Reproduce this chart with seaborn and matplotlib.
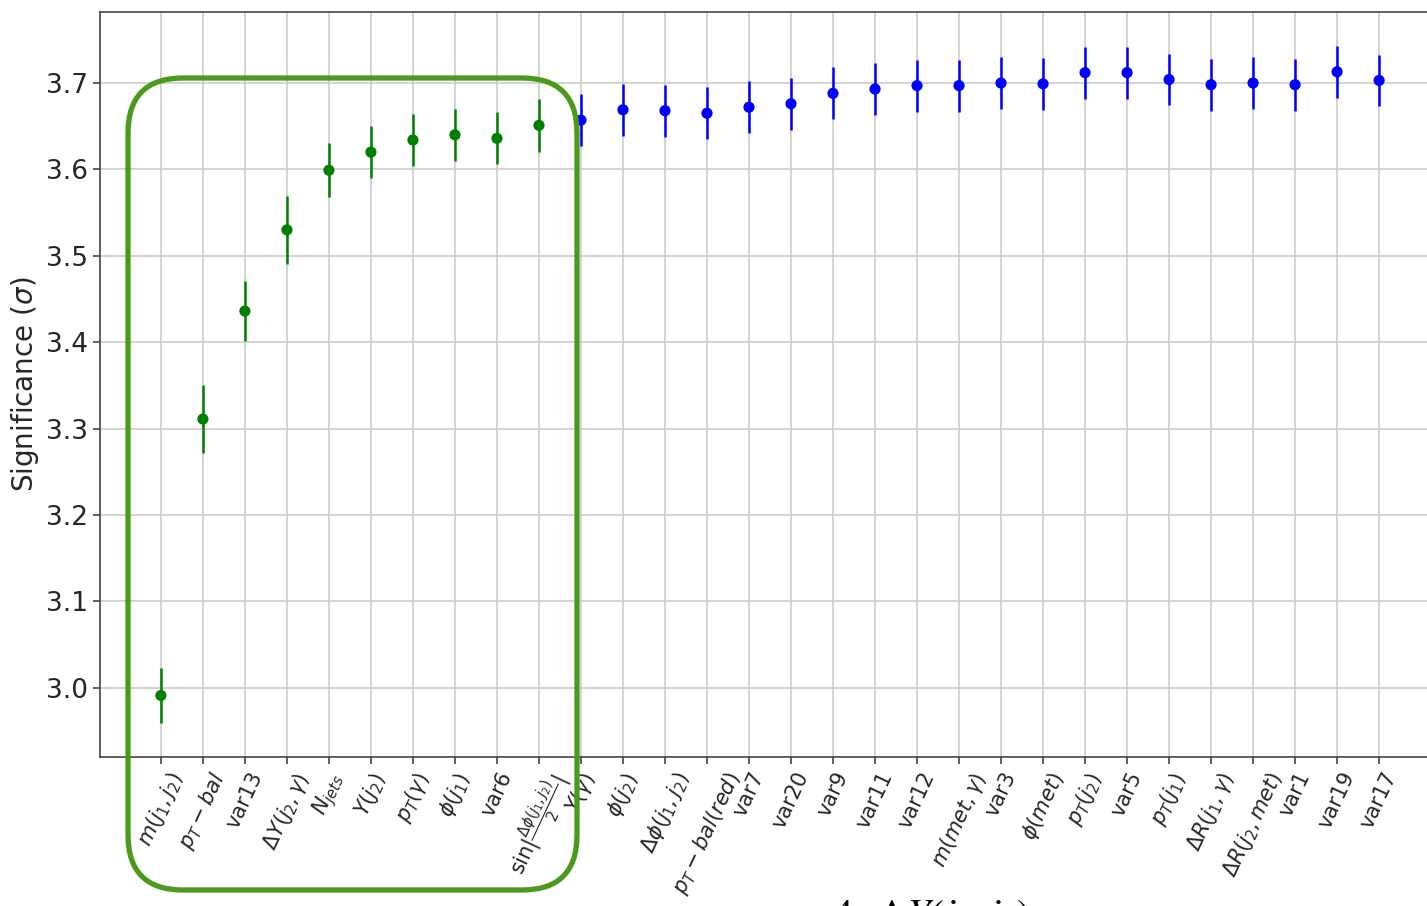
import numpy as np
import pandas as pd
import matplotlib
matplotlib.use("Agg")
import matplotlib.pyplot as plt
import seaborn as sns
from matplotlib.patches import FancyBboxPatch
from matplotlib.transforms import IdentityTransform

# variables in the order they were added, with the significance reached
labels = [r"$m(j_1,j_2)$", r"$p_T-bal$", "var13", r"$\Delta Y(j_2,\gamma)$", r"$N_{jets}$",
          r"$Y(j_2)$", r"$p_T(\gamma)$", r"$\phi(j_1)$", "var6",
          r"$\mathrm{sin}|\frac{\Delta\phi(j_1,j_2)}{2}|$",
          r"$Y(\gamma)$", r"$\phi(j_2)$", r"$\Delta\phi(j_1,j_2)$", r"$p_T-bal(red)$", "var7",
          "var20", "var9", "var11", "var12", r"$m(met,\gamma)$", "var3", r"$\phi(met)$",
          r"$p_T(j_2)$", "var5", r"$p_T(j_1)$", r"$\Delta R(j_1,\gamma)$", r"$\Delta R(j_2,met)$",
          "var1", "var19", "var17"]
significance = [2.991, 3.311, 3.436, 3.530, 3.599, 3.620, 3.634, 3.640, 3.636, 3.651,
                3.657, 3.669, 3.668, 3.665, 3.672, 3.676, 3.688, 3.693, 3.697, 3.697,
                3.700, 3.699, 3.712, 3.712, 3.704, 3.698, 3.700, 3.698, 3.713, 3.703]
errors = [0.032, 0.039, 0.035, 0.039, 0.031, 0.030, 0.030, 0.030, 0.030, 0.031,
          0.030, 0.030, 0.030, 0.030, 0.030, 0.030, 0.030, 0.030, 0.030, 0.030,
          0.030, 0.030, 0.030, 0.030, 0.030, 0.030, 0.030, 0.030, 0.030, 0.030]
n_selected = 10  # first ten variables are the chosen set (green)

df = pd.DataFrame({"pos": np.arange(len(labels)), "label": labels,
                   "sig": significance, "err": errors})
df["group"] = np.where(df["pos"] < n_selected, "selected", "rest")
palette = {"selected": "green", "rest": "blue"}

sns.set_style("ticks")
plt.rcParams["axes.edgecolor"] = "#444444"
plt.rcParams["axes.linewidth"] = 1.2

fig = plt.figure(figsize=(14.27, 9.06), dpi=100)
ax = fig.add_axes([100 / 1427, 1 - 757 / 906, 1340 / 1427, 745 / 906])

for g, sub in df.groupby("group"):
    ax.errorbar(sub["pos"], sub["sig"], yerr=sub["err"], fmt="none",
                ecolor=palette[g], elinewidth=1.8, zorder=2)
sns.scatterplot(data=df, x="pos", y="sig", hue="group", palette=palette,
                s=65, linewidth=0, legend=False, zorder=3, ax=ax)

ax.margins(x=0.05, y=0.05)
ax.grid(True, color="#cccccc", linewidth=1.2)
ax.set_axisbelow(True)
ax.set_xticks(df["pos"])
ax.set_xticklabels(df["label"], rotation=65, fontsize=15)
ax.set_yticks(np.arange(3.0, 3.71, 0.1))
ax.set_yticklabels([f"{v:.1f}" for v in np.arange(3.0, 3.71, 0.1)], fontsize=19)
ax.tick_params(length=5, width=1.2, color="#444444")
ax.set_xlabel("")
ax.set_ylabel(r"Significance ($\sigma$)", fontsize=20)

# rounded green frame around the selected variables
box = FancyBboxPatch((128, 906 - 890), 449, 812,
                     boxstyle="round,pad=0,rounding_size=55",
                     transform=IdentityTransform(), fill=False,
                     edgecolor="#4c9a1c", linewidth=3.8, clip_on=False, zorder=5)
fig.add_artist(box)

# caption from the page below, clipped by the bottom edge as in the source
fig.text(0.583, -0.024, r"$4\cdot\Delta Y(j_1,j_2)$", fontsize=30,
         math_fontfamily="stix", color="black")

fig.savefig("out.png", dpi=100)
